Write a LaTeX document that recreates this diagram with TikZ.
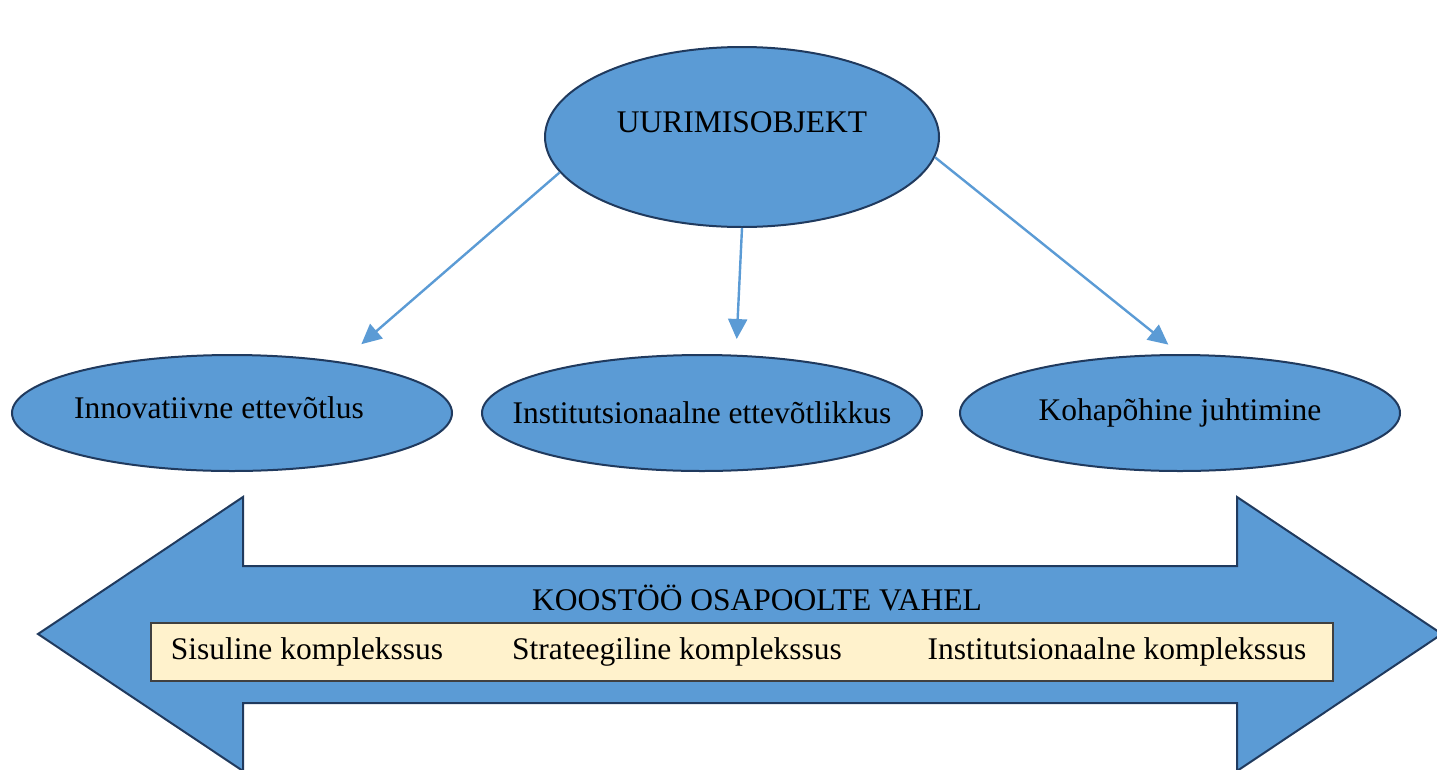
\documentclass[tikz,border=0pt]{standalone}
\usepackage{fontspec}
\setmainfont{Liberation Serif}
\usetikzlibrary{arrows.meta}
\definecolor{objblue}{HTML}{5B9BD5}
\definecolor{objline}{HTML}{203A5E}
\definecolor{boxcream}{HTML}{FFF2CC}
\tikzstyle{line} = [draw=objblue, line width=2.4pt, -{Triangle[length=20pt,width=19pt]}, shorten >=15pt]
\tikzstyle{topic} = [ellipse, draw=objline, fill=objblue, line width=2pt, minimum width=394pt, minimum height=180pt]
\tikzstyle{branch} = [ellipse, draw=objline, fill=objblue, line width=2pt, minimum width=440pt, minimum height=116pt]
\tikzstyle{strip} = [rectangle, draw=black!75, fill=boxcream, line width=1.5pt, minimum width=1182pt, minimum height=58pt]
\tikzstyle{lbl} = [font=\fontsize{31.5}{38}\selectfont, inner sep=0pt]
\usetikzlibrary{shapes}

\begin{document}
\begin{tikzpicture}[x=1pt, y=-1pt]
	\useasboundingbox (0,0) rectangle (1437,769);
	\node [topic, label={[lbl, yshift=15pt]center:UURIMISOBJEKT}] (obj) at (742,137) {};
	
	\node [branch, below of=obj, xshift=-510pt, node distance=276pt, label={[lbl, xshift=-13pt, yshift=5pt]center:Innovatiivne ettevõtlus}] (inno) {};
	\node [branch, right of=inno, node distance=470pt, label={[lbl]center:Institutsionaalne ettevõtlikkus}] (inst) {};
	\node [branch, right of=inst, node distance=478pt, label={[lbl]center:Kohapõhine juhtimine}] (koha) {};
	
	\path [line] (obj.191) to ([xshift=118pt]inno.north);
	\path [line] (obj.south) to ([xshift=34pt]inst.north);
	\path [line] (obj.-6) to (koha.north);
	
	% koostoo nool
	\draw [objline, fill=objblue, line width=2pt] (38,634) -- (243,497) -- (243,566) -- (1237,566) -- (1237,497) -- (1442,634) -- (1237,771) -- (1237,703) -- (243,703) -- (243,771) -- cycle;
	\node [lbl] (koos) at (757,598) {KOOSTÖÖ OSAPOOLTE VAHEL};
	
	\node [strip] (kompl) at (742,652) {};
	\node [lbl] (sisu) at (307,652) {Sisuline komplekssus};
	\node [lbl] (strat) at (677,652) {Strateegiline komplekssus};
	\node [lbl] (instk) at (1117,652) {Institutsionaalne komplekssus};
\end{tikzpicture}
\end{document}
